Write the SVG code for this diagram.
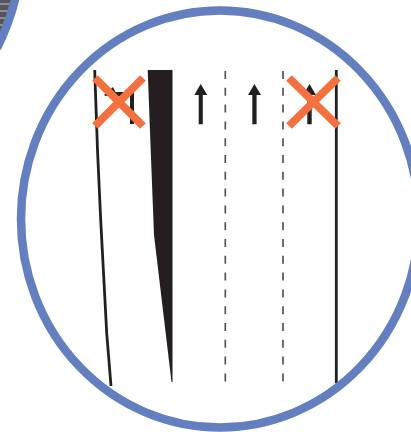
<svg xmlns="http://www.w3.org/2000/svg" width="411" height="432" viewBox="0 0 411 432">
<style>
.ring{fill:none;stroke:#647fbf;stroke-width:8.500}
.dash{fill:none;stroke:#555;stroke-width:1.700;stroke-dasharray:8 8.800}
.ink{fill:#231f20}
.line{fill:none;stroke:#231f20;stroke-width:2.800}
.x{fill:none;stroke:#f5703f;stroke-width:8}
.stripe{fill:none;stroke:#8f8d92;stroke-width:2}
</style>
<rect width="411" height="432" fill="#fff"/>
<path d="M0 0H15L0 44Z" fill="#55555f"/>
<path class="stripe" d="M0 4H13M0 11H11M0 18H9M0 25H6"/>
<path class="ring" d="M15.500 -2Q9 24 -3 48"/>
<g id="road">
<path class="line" d="M94.700 70L97.500 150L100.700 220L106.700 333L111 386"/>
<path class="ink" d="M147.700 70H172.500V382H171.500L154 235L150.700 150Z"/>
<path class="dash" d="M225.300 71V382"/>
<path class="dash" d="M283 71V382"/>
<path class="line" d="M336.300 70V383"/>
<path class="ink" d="M104 95L113 87L115.500 92H134V124H130V96H106Z"/>
<path id="arrow2" class="ink" d="M200.700 84L207.300 95H202.800V124.300H198.700V95H194.300Z"/>
<path id="arrow3" class="ink" d="M254.400 84L261 95H256.600V124.300H252.300V95H248Z"/>
<path id="arrow4" class="ink" d="M309.500 84L316 95H311.700V124.300H307.300V95H303Z"/>
</g>
<g id="crosses">
<path class="x" d="M95 78L143 126M143 78L95 126"/>
<path class="x" d="M289 78L338 126M338 78L289 126"/>
</g>
<ellipse class="ring" cx="220" cy="219" rx="199" ry="208.500"/>
</svg>
